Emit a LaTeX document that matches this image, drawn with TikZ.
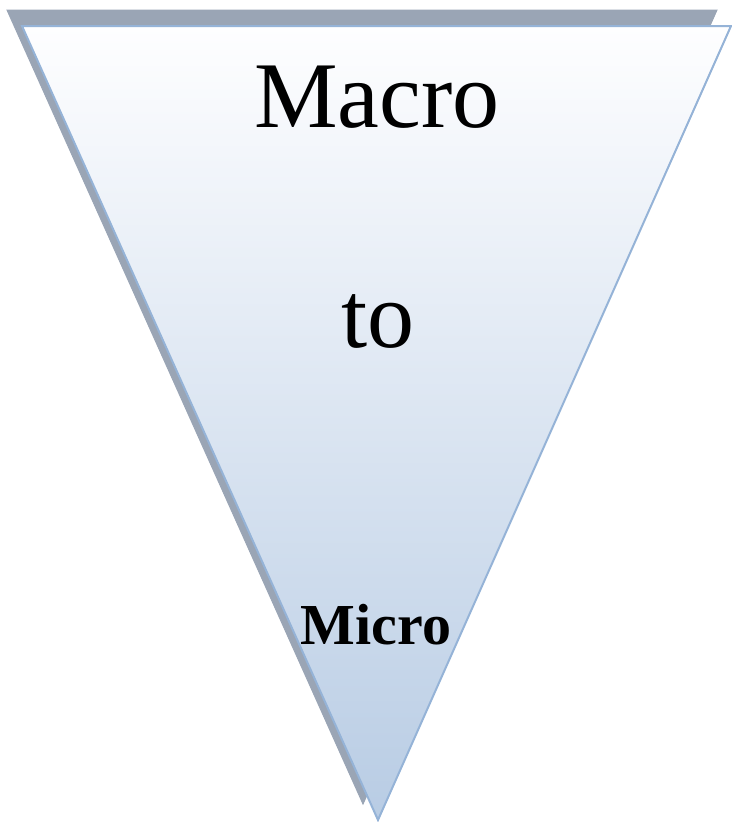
\documentclass[tikz,border=0pt]{standalone}
\usepackage{fontspec}
\setmainfont{Liberation Serif}
\definecolor{shadowgray}{HTML}{9AA5B5}
\definecolor{edgeblue}{HTML}{95B3D7}
\definecolor{topwhite}{HTML}{FEFEFF}
\definecolor{botblue}{HTML}{B8CCE4}
\tikzset{
  shadowtri/.style={fill=shadowgray, draw=shadowgray, line width=1pt, line join=miter},
  maintri/.style={top color=topwhite, bottom color=botblue, draw=edgeblue, line width=2pt, line join=miter},
  bigtext/.style={font=\fontsize{94}{100}\selectfont, anchor=base, inner sep=0pt},
  smalltext/.style={font=\fontsize{58}{62}\selectfont\bfseries, anchor=base, inner sep=0pt},
}
\begin{document}
\begin{tikzpicture}[x=1pt,y=-1pt]
\useasboundingbox (0,0) rectangle (731,822);
\path[shadowtri] (7,10) -- (717,10) -- (363,804) -- cycle;
\path[maintri] (22,26) -- (731,26) -- (378,820) -- cycle;
\node[bigtext] (macro) at (377,127) {Macro};
\node[bigtext] (to) at (378,347) {to};
\node[smalltext] (micro) at (376,644) {Micro};
\end{tikzpicture}
\end{document}
